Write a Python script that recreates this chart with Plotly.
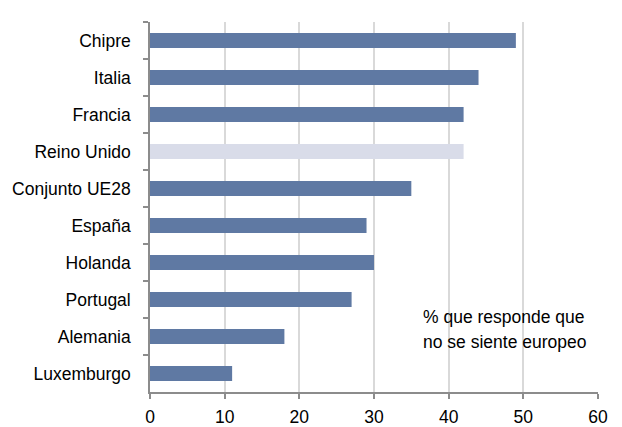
import plotly.graph_objects as go

categories = ["Chipre", "Italia", "Francia", "Reino Unido", "Conjunto UE28",
              "España", "Holanda", "Portugal", "Alemania", "Luxemburgo"]
values = [49, 44, 42, 42, 35, 29, 30, 27, 18, 11]
highlight = "Reino Unido"
x_ticks = [0, 10, 20, 30, 40, 50, 60]
note_lines = ["% que responde que", "no se siente europeo"]

main_color = "#5f79a3"
light_color = "#d9dce9"
colors = [light_color if c == highlight else main_color for c in categories]

fig = go.Figure(go.Bar(
    y=categories, x=values, orientation="h",
    marker=dict(color=colors, line=dict(width=0)),
    width=0.41,
))

font = dict(family="Liberation Sans, Arial, sans-serif", size=17.5, color="#000000")

fig.update_layout(
    width=622, height=427,
    margin=dict(l=150, r=24, t=22, b=35),
    plot_bgcolor="white", paper_bgcolor="white",
    font=font,
    showlegend=False,
)
fig.update_xaxes(
    range=[0, 60], tickvals=x_ticks, ticktext=[str(v) for v in x_ticks],
    showgrid=True, gridcolor="#d9d9d9", gridwidth=1.5,
    showline=True, linecolor="#8c8c8c", linewidth=1.5,
    ticks="outside", ticklen=5, tickcolor="#8c8c8c", tickwidth=1.5,
    zeroline=False, fixedrange=True, automargin=False, ticklabelstandoff=3,
)
fig.update_yaxes(
    categoryorder="array", categoryarray=categories, autorange="reversed",
    showgrid=False, showline=True, linecolor="#8c8c8c", linewidth=1.5,
    ticks="outside", ticklen=5, tickcolor="#8c8c8c", tickwidth=1.5,
    tickson="boundaries", ticklabelstandoff=14, automargin=False,
)
line_y = [0.203, 0.135]
for txt, yy in zip(note_lines, line_y):
    fig.add_annotation(
        x=36.3, xref="x", y=yy, yref="paper",
        text=txt, showarrow=False, xanchor="left", yanchor="middle",
        align="left", font=font,
    )
fig.write_html("out.html")
